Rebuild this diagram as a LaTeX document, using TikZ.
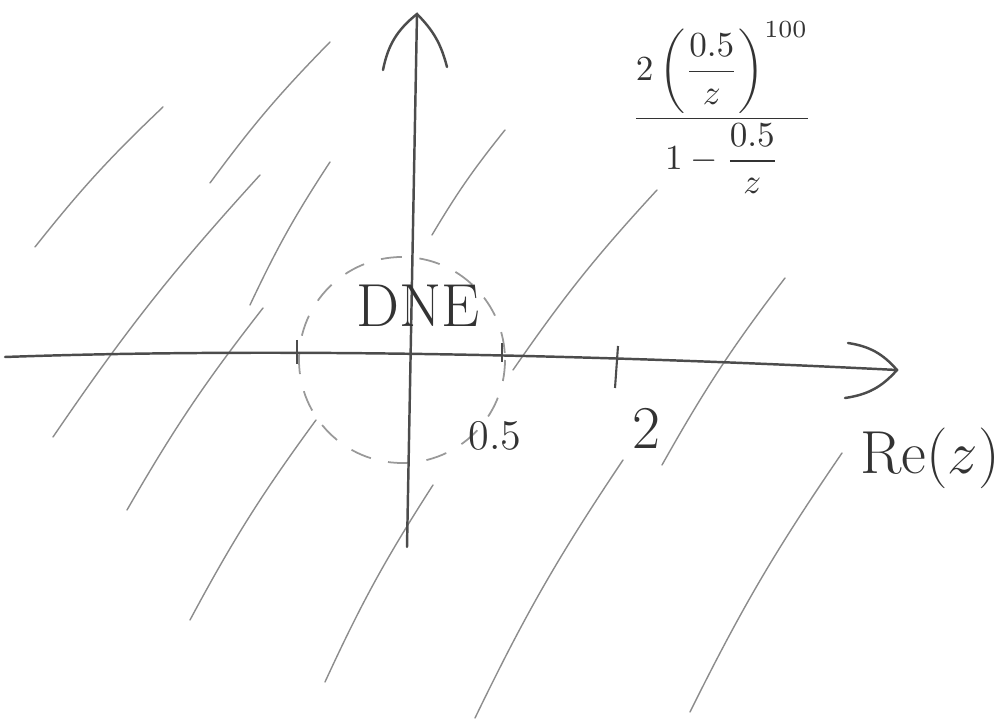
\documentclass[tikz,border=0pt]{standalone}
\usepackage{amsmath}
\usepackage{xcolor}

\begin{document}
\begin{tikzpicture}[
    x=0.01cm, y=-0.01cm,
    axis/.style={draw=black!70, line width=0.7pt, line cap=round},
    hatch/.style={draw=black!45, line width=0.4pt, line cap=round},
    tick/.style={draw=black!70, line width=0.6pt},
    rim/.style={draw=black!40, line width=0.5pt, dash pattern=on 6pt off 5pt},
    lbl/.style={text=black!80, inner sep=1pt}
]

    % Marco de la figura
    \useasboundingbox (0,0) rectangle (1003,719);

    % Puntos de los ejes
    \coordinate (O)    at (402,350);
    \coordinate (Xl)   at (5,357);
    \coordinate (Xr)   at (897,370);
    \coordinate (Yb)   at (407,547);
    \coordinate (Yt)   at (417,14);

    % Región de convergencia (rayado)
    \foreach \xa/\ya/\xb/\yb in {35/247/163/107, 210/183/330/42, 53/437/260/175,
        250/305/330/162, 127/510/263/308, 432/235/505/130, 190/620/316/420,
        325/682/433/485, 475/718/623/460, 690/712/842/453, 513/370/657/190,
        662/465/785/278} {
        \draw[hatch] (\xa,\ya) to[bend left=4] (\xb,\yb);
    }

    % Círculo |z| = 0.5
    \draw[rim] (402,360) circle[radius=103];

    % Ejes
    \draw[axis] (Xl) .. controls (200,350) and (500,350) .. (Xr);
    \draw[axis] (Yb) -- (Yt);

    % Puntas de flecha a mano
    \draw[axis] (848,343) to[bend left=20] (Xr) to[bend left=20] (845,398);
    \draw[axis] (383,70) to[bend left=20] (Yt) to[bend left=15] (447,67);

    % Marcas
    \draw[tick] (297,340) -- (297,364);
    \draw[tick] (502,343) -- (502,362);
    \draw[tick] (618,346) -- (615,388);

    % Etiquetas
    \node[lbl, font=\LARGE] (dne) at (418,306) {DNE};
    \node[lbl, font=\large] (half) at (495,436) {0.5};
    \node[lbl, font=\LARGE] (two) at (646,428) {2};
    \node[lbl, font=\LARGE] (re) at (930,458) {Re($z$)};

    % Fórmula
    \node[lbl, font=\normalsize] (sum) at (722,108)
        {$\dfrac{2\left(\dfrac{0.5}{z}\right)^{100}}{1-\dfrac{0.5}{z}}$};

\end{tikzpicture}
\end{document}
